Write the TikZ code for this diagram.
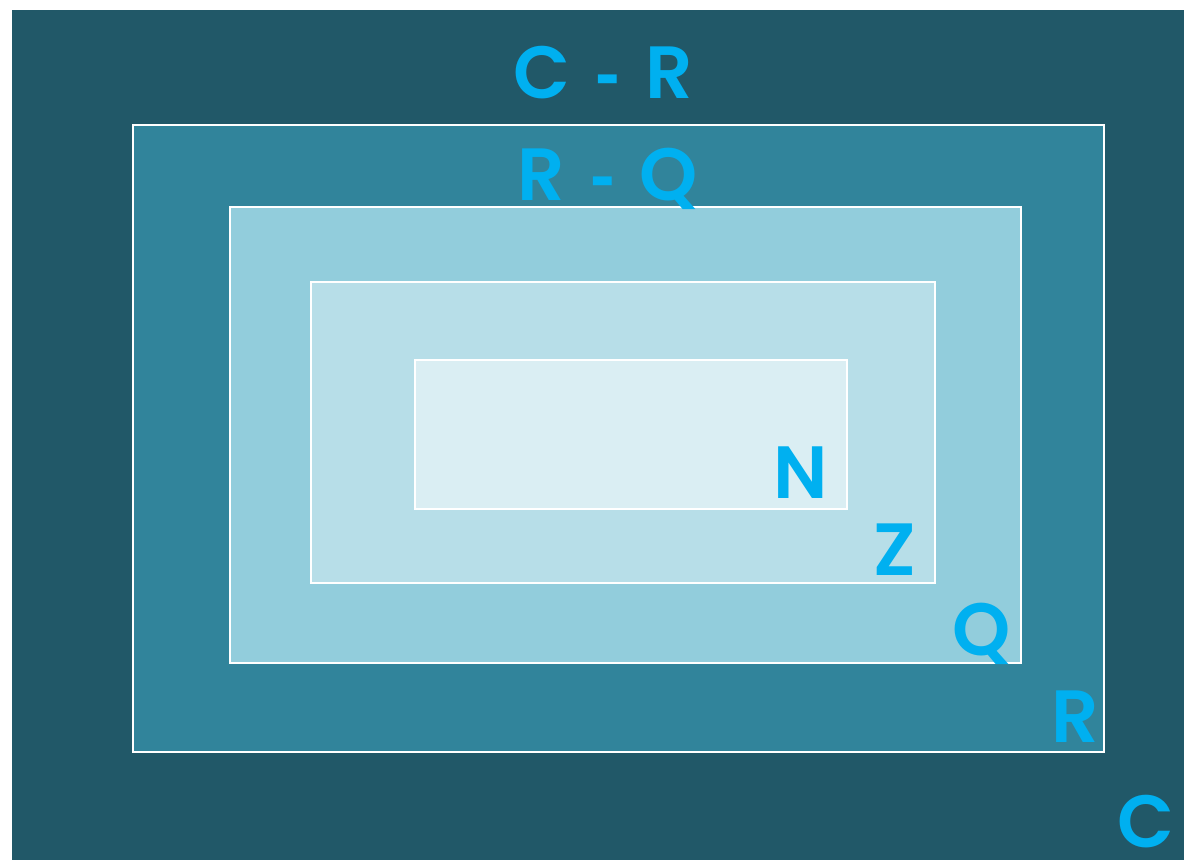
\documentclass[tikz,border=0pt]{standalone}
\usepackage{fontspec}
\setmainfont{Poppins}[BoldFont=* SemiBold]
\newfontfamily\dashfont{Liberation Sans}
\definecolor{layerC}{HTML}{215868}
\definecolor{layerR}{HTML}{31849B}
\definecolor{layerQ}{HTML}{92CDDC}
\definecolor{layerZ}{HTML}{B7DEE8}
\definecolor{layerN}{HTML}{DAEEF3}
\definecolor{labelblue}{HTML}{00B0F0}
% short, heavy difference sign with wide gaps on either side
\newcommand{\setdiff}{\hspace{25pt}{\dashfont\bfseries -}\hspace{25pt}}
\tikzset{
  layer/.style={draw=white, line width=1.6pt},
  lbl/.style={text=labelblue, font=\fontsize{74}{74}\selectfont\bfseries,
    anchor=base, inner sep=0pt, text depth=0pt}
}
\begin{document}
\begin{tikzpicture}[x=1pt, y=-1pt]
  \useasboundingbox (0,0) rectangle (1184,860);
  % nested sets, outermost first
  \fill[layerC] (12,10) rectangle (1184,860);
  \path[layer, fill=layerR] (133,125) rectangle (1104,752);
  \path[layer, fill=layerQ] (230,207) rectangle (1021,663);
  \path[layer, fill=layerZ] (311,282) rectangle (935,583);
  \path[layer, fill=layerN] (415,360) rectangle (847,509);
  % labels
  \node[lbl] (cr) at (603,98) {C\setdiff R};
  \node[lbl] (rq) at (608,200) {R\setdiff Q};
  \node[lbl] (n) at (801,498) {N};
  \node[lbl] (z) at (895,575) {Z};
  \node[lbl] (q) at (982,655) {Q};
  \node[lbl] (r) at (1075,742) {R};
  \node[lbl] (c) at (1146,847) {C};
\end{tikzpicture}
\end{document}
